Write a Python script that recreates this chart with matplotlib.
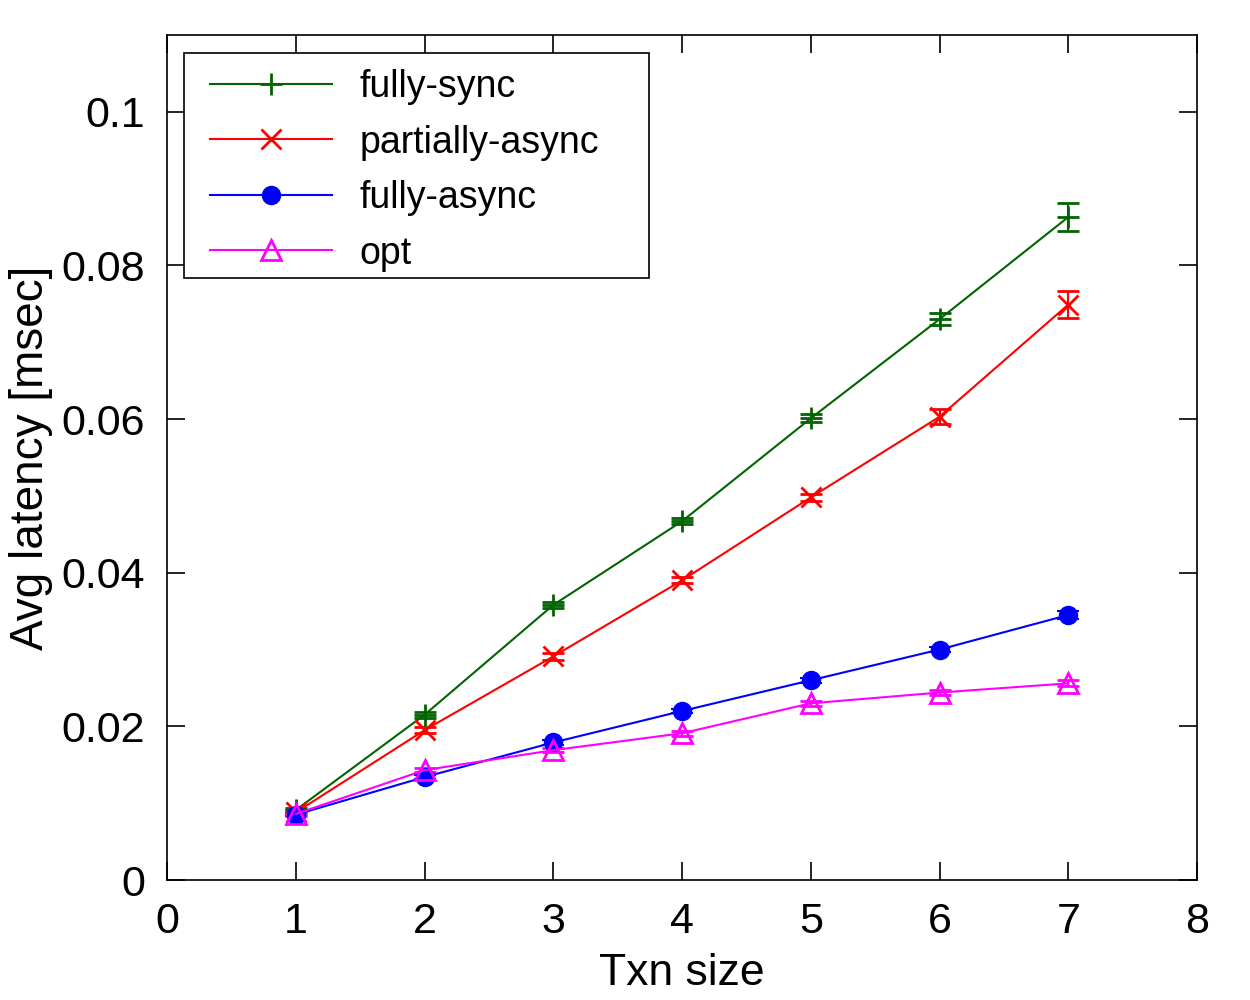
import numpy as np
import matplotlib
matplotlib.use("Agg")
import matplotlib.pyplot as plt
from matplotlib.lines import Line2D
from matplotlib.patches import Rectangle

plt.rcParams['font.family'] = ['Liberation Sans', 'DejaVu Sans']

# data
txn_size = [1, 2, 3, 4, 5, 6, 7]
fully_sync = [0.0091, 0.0215, 0.0358, 0.0467, 0.0601, 0.0730, 0.0863]
fully_sync_err = [0.0003, 0.0004, 0.0004, 0.0004, 0.0005, 0.0008, 0.0018]
partially_async = [0.0088, 0.0195, 0.0291, 0.0390, 0.0498, 0.0603, 0.0749]
partially_async_err = [0.0003, 0.0004, 0.0004, 0.0004, 0.0005, 0.0010, 0.0018]
fully_async = [0.0085, 0.0134, 0.0179, 0.0220, 0.0260, 0.0300, 0.0345]
fully_async_err = [0.0002, 0.0003, 0.0003, 0.0003, 0.0003, 0.0003, 0.0005]
opt = [0.0086, 0.0143, 0.0169, 0.0191, 0.0230, 0.0244, 0.0256]
opt_err = [0.0003, 0.0003, 0.0003, 0.0003, 0.0003, 0.0003, 0.0004]

fig = plt.figure(figsize=(12.5, 10), dpi=100)
ax = fig.add_axes([0.1336, 0.12, 0.824, 0.845])

series = [
    ("fully-sync", fully_sync, fully_sync_err, "#006400", "+", dict(markersize=16, markeredgewidth=2)),
    ("partially-async", partially_async, partially_async_err, "red", "x", dict(markersize=14, markeredgewidth=2)),
    ("fully-async", fully_async, fully_async_err, "blue", "o", dict(markersize=13)),
    ("opt", opt, opt_err, "magenta", "^", dict(markersize=15, markerfacecolor="none", markeredgewidth=2)),
]

handles = []
for name, vals, err, col, mk, kw in series:
    ax.errorbar(txn_size, vals, yerr=err, color=col, marker=mk, lw=1.5,
                capsize=8, elinewidth=1.5, capthick=1.5, **kw)
    handles.append(Line2D([], [], color=col, marker=mk, lw=1.5, label=name, **kw))

ax.set_xlim(0, 8)
ax.set_ylim(0, 0.11)
ax.set_xticks(range(0, 9))
ax.set_yticks([0, 0.02, 0.04, 0.06, 0.08, 0.1])
ax.set_yticklabels(["0", "0.02", "0.04", "0.06", "0.08", "0.1"])
ax.tick_params(direction="in", length=13, width=1.2, labelsize=31,
               top=True, right=True, pad=16)
for s in ax.spines.values():
    s.set_linewidth(1.2)

ax.set_xlabel("Txn size", fontsize=32, labelpad=8)
ax.set_ylabel("Avg latency [msec]", fontsize=33, labelpad=6)

# legend box drawn separately (wider on the right, like gnuplot)
ax.add_patch(Rectangle((0.0165, 0.7124), 0.4515, 0.2663, transform=ax.transAxes,
                       facecolor="white", edgecolor="black", lw=1.2, zorder=4))
leg = ax.legend(handles=handles, loc="upper left", bbox_to_anchor=(0.031, 0.973),
                fontsize=27, frameon=False,
                handlelength=3.25, handletextpad=0.73, labelspacing=0.52,
                borderpad=0.3, borderaxespad=0)
leg.set_zorder(5)

fig.savefig("out.png", dpi=100)
